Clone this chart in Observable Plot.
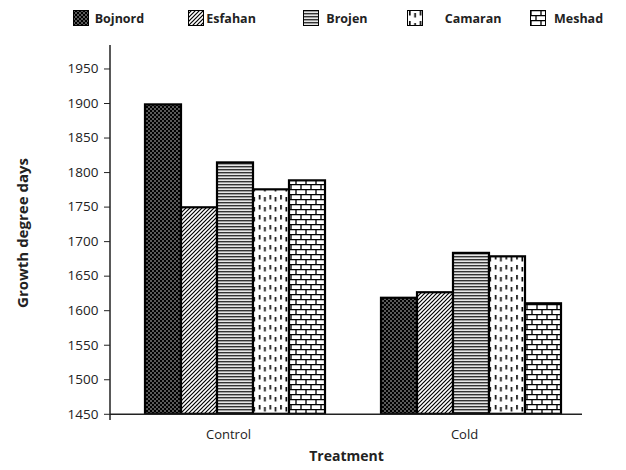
<!DOCTYPE html>
<html>
<head>
<meta charset="utf-8">
<script src="https://cdn.jsdelivr.net/npm/d3@7"></script>
<script src="https://cdn.jsdelivr.net/npm/@observablehq/plot@0.6"></script>
<style>
  body { margin: 0; background: white; font-family: "Open Sans", sans-serif; }
  #legend { position: relative; height: 34px; width: 626px; }
  .item { position: absolute; top: 10px; height: 16px; display: flex; align-items: center; font-weight: bold; font-size: 12.5px; color: #222; }
  .item svg { display: block; }
  .item span { position: absolute; white-space: nowrap; }
</style>
</head>
<body>
<div id="legend"></div>
<div id="chart"></div>
<script>
// ---- data ----
const locations = ["Bojnord", "Esfahan", "Brojen", "Camaran", "Meshad"];
const treatments = ["Control", "Cold"];
const controlValues = [1898, 1749, 1814, 1775, 1788];
const coldValues = [1618, 1626, 1683, 1678, 1610];
const yTicks = [1450, 1500, 1550, 1600, 1650, 1700, 1750, 1800, 1850, 1900, 1950];
const baseline = 1450;

const seriesByTreatment = { Control: controlValues, Cold: coldValues };
const data = treatments.flatMap(t => locations.map((loc, j) => ({ treatment: t, location: loc, value: seriesByTreatment[t][j] })));

const patternIds = locations.map(l => "pat-" + l);
const patternFills = patternIds.map(id => `url(#${id})`);

// ---- patterns ----
function addPatterns(defs) {
  // Bojnord: black with light dots
  let p = defs.append("pattern").attr("id", "pat-Bojnord").attr("patternUnits", "userSpaceOnUse").attr("width", 4).attr("height", 4);
  p.append("rect").attr("width", 4).attr("height", 4).attr("fill", "#000");
  p.append("circle").attr("cx", 1).attr("cy", 1).attr("r", 0.75).attr("fill", "#ddd");
  p.append("circle").attr("cx", 3).attr("cy", 3).attr("r", 0.75).attr("fill", "#ddd");
  // Esfahan: diagonal hatch
  p = defs.append("pattern").attr("id", "pat-Esfahan").attr("patternUnits", "userSpaceOnUse").attr("width", 4).attr("height", 4);
  p.append("rect").attr("width", 4).attr("height", 4).attr("fill", "#fff");
  p.append("path").attr("d", "M-1,1 L1,-1 M0,4 L4,0 M3,5 L5,3").attr("stroke", "#000").attr("stroke-width", 1.2);
  // Brojen: horizontal lines
  p = defs.append("pattern").attr("id", "pat-Brojen").attr("patternUnits", "userSpaceOnUse").attr("width", 6).attr("height", 3);
  p.append("rect").attr("width", 6).attr("height", 3).attr("fill", "#e6e6e6");
  p.append("rect").attr("y", 0).attr("width", 6).attr("height", 1.4).attr("fill", "#333");
  // Camaran: short vertical dashes
  p = defs.append("pattern").attr("id", "pat-Camaran").attr("patternUnits", "userSpaceOnUse").attr("width", 10.7).attr("height", 10);
  p.append("rect").attr("width", 10.7).attr("height", 10).attr("fill", "#fff");
  p.append("rect").attr("x", 2).attr("y", 1).attr("width", 1.6).attr("height", 4.5).attr("fill", "#000");
  p.append("rect").attr("x", 7.3).attr("y", 3).attr("width", 1.6).attr("height", 4.5).attr("fill", "#000");
  // Meshad: bricks
  p = defs.append("pattern").attr("id", "pat-Meshad").attr("patternUnits", "userSpaceOnUse").attr("width", 10).attr("height", 10);
  p.append("rect").attr("width", 10).attr("height", 10).attr("fill", "#fff");
  p.append("path").attr("d", "M0,0.6 H10 M0,5.6 H10 M1,0.6 V5.6 M6,5.6 V10.6").attr("stroke", "#000").attr("stroke-width", 1.3).attr("fill", "none");
}

// ---- chart ----
const chart = Plot.plot({
  width: 626,
  height: 436,
  marginLeft: 110,
  marginRight: 44,
  marginTop: 11,
  marginBottom: 50,
  style: { fontFamily: "'Open Sans', sans-serif", fontSize: "13px", color: "#222", background: "white" },
  fx: { domain: treatments, paddingInner: 0, paddingOuter: 0 },
  x: { domain: locations, padding: 0, insetLeft: 35, insetRight: 21, axis: null },
  y: { domain: [1441, 1984] },
  color: { domain: locations, range: patternFills },
  marks: [
    Plot.barY(data, { fx: "treatment", x: "location", y1: () => baseline, y2: "value", fill: "location", stroke: "#000", strokeWidth: 2.2 }),
    Plot.ruleY([baseline], { stroke: "#222", strokeWidth: 1.5 }),
    Plot.axisY({ ticks: yTicks, tickFormat: d => String(d), tickSize: 6, tickPadding: 6, fontSize: 13.5, stroke: "#222", label: "Growth degree days", labelAnchor: "center", labelArrow: "none", labelOffset: 93 }),
    Plot.axisFx({ anchor: "bottom", tickSize: 0, tickPadding: 9, label: "Treatment", labelAnchor: "center", labelArrow: "none", labelOffset: 40 })
  ]
});

const svg = d3.select(chart);
addPatterns(svg.insert("defs", ":first-child"));
svg.selectAll("g[aria-label='y-axis label'] text").attr("font-weight", "bold").attr("font-size", 15);
svg.selectAll("g[aria-label='fx-axis label'] text").attr("font-weight", "bold").attr("font-size", 14);

// y axis line along the left edge of the frame, from the plot's own scales
const yRange = chart.scale("y").range;
const fxRange = chart.scale("fx").range;
svg.append("line")
  .attr("x1", fxRange[0]).attr("x2", fxRange[0])
  .attr("y1", yRange[0]).attr("y2", yRange[1])
  .attr("stroke", "#222").attr("stroke-width", 1.5);

document.getElementById("chart").appendChild(chart);

// ---- legend ----
const legendLeft = [72.7, 188.3, 303.3, 406.7, 530];
const legendTextOffset = [22, 18, 23, 38, 24];
const legend = d3.select("#legend");
locations.forEach((loc, i) => {
  const item = legend.append("div").attr("class", "item").style("left", legendLeft[i] + "px");
  const s = item.append("svg").attr("width", 16).attr("height", 16);
  s.append("rect").attr("x", 0.5).attr("y", 0.5).attr("width", 15).attr("height", 15).attr("fill", patternFills[i]).attr("stroke", "#000").attr("stroke-width", 1);
  item.append("span").style("left", legendTextOffset[i] + "px").text(loc);
});
</script>
</body>
</html>
